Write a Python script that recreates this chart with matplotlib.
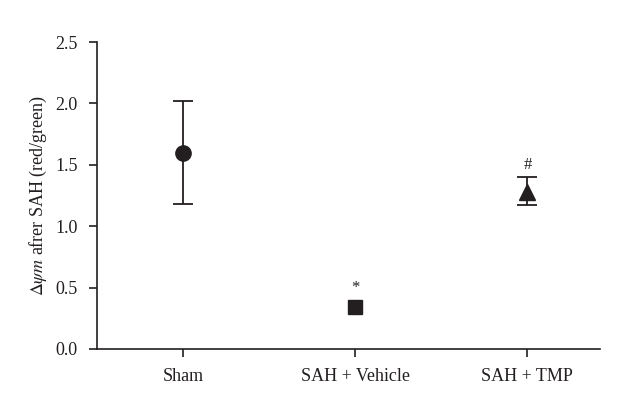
import numpy as np
import matplotlib.pyplot as plt

plt.rcParams['font.family'] = ['Liberation Serif', 'DejaVu Serif']
plt.rcParams['mathtext.fontset'] = 'stix'

# Data
groups = ['Sham', 'SAH + Vehicle', 'SAH + TMP']
means = [1.60, 0.34, 1.28]
err_low = [0.42, 0.0, 0.11]
err_high = [0.42, 0.0, 0.12]
markers = ['o', 's', '^']
msizes = [11, 10, 11]
marks = ['', '*', '#']

x = np.arange(1, len(groups) + 1)
col = '#231f20'

fig = plt.figure(figsize=(6.17, 3.93), dpi=100)
ax = fig.add_axes([0.157, 0.112, 0.815, 0.781])

for i in range(len(groups)):
    if err_high[i] > 0:
        ax.errorbar(x[i], means[i], yerr=[[err_low[i]], [err_high[i]]],
                    fmt=markers[i], color=col, ms=msizes[i], capsize=7,
                    elinewidth=1.3, capthick=1.3)
        top = means[i] + err_high[i]
    else:
        ax.plot(x[i], means[i], markers[i], color=col, ms=msizes[i])
        top = means[i] + 0.06
    if marks[i]:
        ax.text(x[i], top + 0.03, marks[i], ha='center', va='bottom',
                fontsize=12, color=col)

ax.set_xlim(0.5, 3.42)
ax.set_ylim(0, 2.5)
ax.set_yticks([0.0, 0.5, 1.0, 1.5, 2.0, 2.5])
ax.set_yticklabels(['0.0', '0.5', '1.0', '1.5', '2.0', '2.5'])
ax.set_xticks(x)
ax.set_xticklabels(groups)
ax.set_ylabel(r'$\Delta\psi m$ afrer SAH (red/green)', fontsize=13, color=col)

for s in ['top', 'right']:
    ax.spines[s].set_visible(False)
for s in ['left', 'bottom']:
    ax.spines[s].set_color(col)
    ax.spines[s].set_linewidth(1.2)
ax.tick_params(direction='out', length=6, width=1.2, colors=col,
               labelsize=13, pad=8)

fig.savefig('out.png', dpi=100)
